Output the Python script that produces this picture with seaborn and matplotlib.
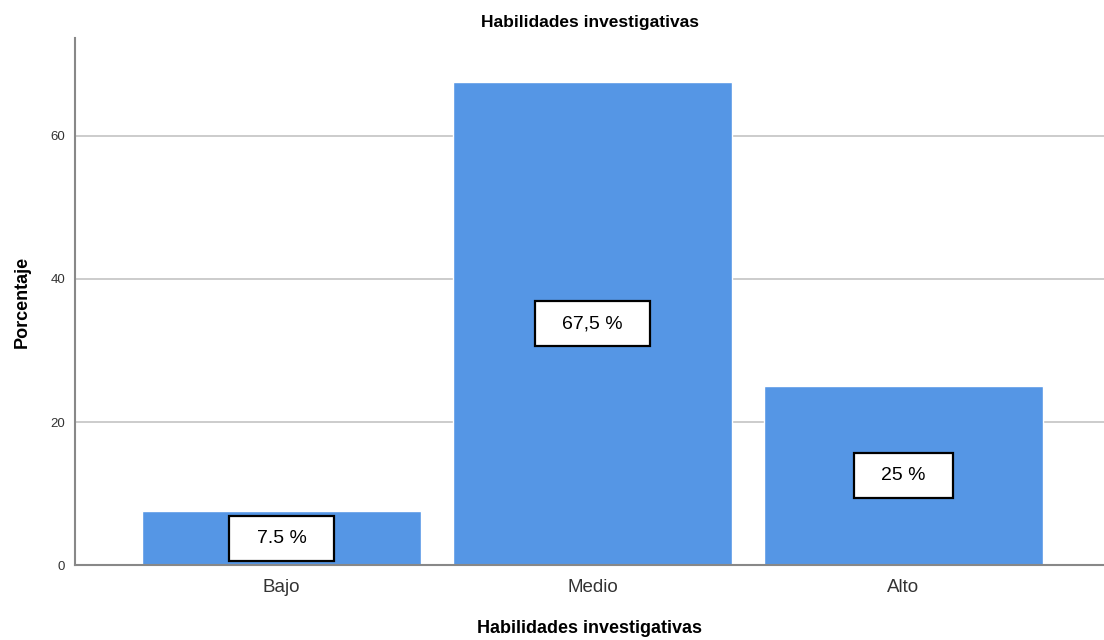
import matplotlib
matplotlib.use('Agg')
import matplotlib.pyplot as plt
from matplotlib.path import Path
import seaborn as sns
import pandas as pd

# Data
categories = ['Bajo', 'Medio', 'Alto']
percentages = [7.5, 67.5, 25.0]
bar_labels = ['7.5 %', '67,5 %', '25 %']
y_ticks = [0, 20, 40, 60]

df = pd.DataFrame({'nivel': categories, 'porcentaje': percentages})

sns.set_style('white')
plt.rcParams['font.family'] = ['Liberation Sans', 'DejaVu Sans']


# label box with wider horizontal padding than vertical (SPSS style)
def wide_box(x0, y0, width, height, mutation_size):
    px, py = 1.4 * mutation_size, 0.72 * mutation_size
    x0, y0 = x0 - px, y0 - py
    x1, y1 = x0 + width + 2 * px, y0 + height + 2 * py
    return Path([(x0, y0), (x1, y0), (x1, y1), (x0, y1), (x0, y0)], closed=True)


fig = plt.figure(figsize=(11.04, 6.4), dpi=100)
ax = fig.add_axes([0.068, 0.117, 0.932, 0.824])

# Grid first so bars cover it
for t in y_ticks[1:]:
    ax.axhline(t, color='#c8c8c8', lw=1.3, zorder=0)

sns.barplot(data=df, x='nivel', y='porcentaje', order=categories,
            color='#5596E5', saturation=1, width=0.9, ax=ax, zorder=2)

for i, (v, lab) in enumerate(zip(percentages, bar_labels)):
    ax.text(i, v / 2, lab, ha='center', va='center', fontsize=14, color='black', zorder=3,
            bbox=dict(boxstyle=wide_box, fc='white', ec='black', lw=1.6))

ax.set_xlim(-0.664, 2.645)
ax.set_ylim(0, 73.7)
ax.set_yticks(y_ticks)
ax.tick_params(axis='y', labelsize=9.5, colors='#333333', length=0, pad=7)
ax.tick_params(axis='x', labelsize=13.5, colors='#333333', length=0, pad=10)

for s in ['top', 'right']:
    ax.spines[s].set_visible(False)
for s in ['left', 'bottom']:
    ax.spines[s].set_color('#888888')
    ax.spines[s].set_linewidth(1.5)

ax.set_title('Habilidades investigativas', fontsize=12.5, fontweight='bold', color='black', pad=8)
ax.set_xlabel('Habilidades investigativas', fontsize=13, fontweight='bold', color='black', labelpad=17)
ax.set_ylabel('Porcentaje', fontsize=13, fontweight='bold', color='black', labelpad=14)

plt.savefig('out.png', dpi=100)
